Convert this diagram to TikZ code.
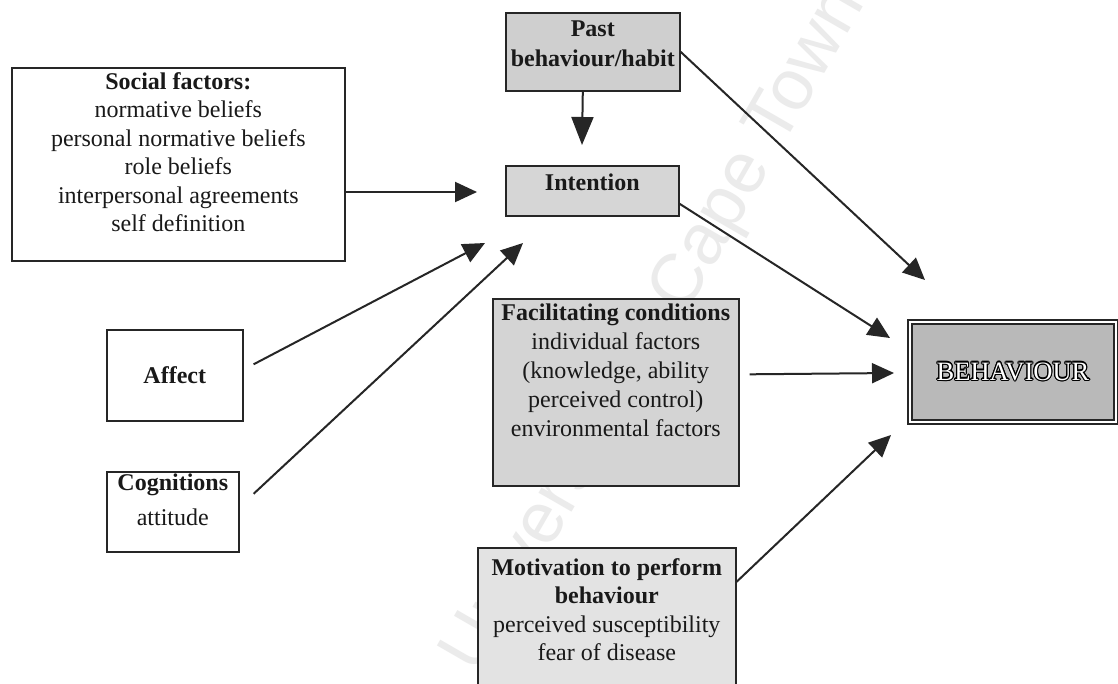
\documentclass[tikz,border=0pt]{standalone}
\usepackage{fontspec}
\setmainfont{Liberation Serif}
\newfontfamily\wmfont{Liberation Sans}
\usepackage{contour}
\contourlength{1.1pt}
\usetikzlibrary{arrows.meta,calc}
\tikzset{
  box/.style={draw=black!85, line width=1.6pt, inner sep=0pt, rectangle, anchor=north west},
  shadedbox/.style={box, fill=gray!30},
  txt/.style={font=\fontsize{24}{28.5}\selectfont, align=center, inner sep=0pt, text=black!90},
  arr/.style={line width=2pt, draw=black!85, -{Triangle[length=22pt,width=20pt]}},
}
\begin{document}
\begin{tikzpicture}[x=1pt,y=-1pt]
\useasboundingbox (0,0) rectangle (1118,683);
\fill[white] (0,0) rectangle (1118,683);
% watermark
\node[rotate=60, text=gray!16, font=\wmfont\fontsize{72}{72}\selectfont, inner sep=0pt] (wm) at (655,330) {University of Cape Town};
% boxes
\node[box, minimum width=333, minimum height=193] (social) at (11,67) {};
\node[shadedbox, fill=gray!38, minimum width=174, minimum height=78] (past) at (505,12) {};
\node[shadedbox, fill=gray!32, minimum width=173, minimum height=50] (int) at (505,165) {};
\node[shadedbox, fill=gray!34, minimum width=246, minimum height=187] (fac) at (492,298) {};
\node[shadedbox, fill=gray!22, minimum width=258, minimum height=142] (mot) at (477,547) {};
\node[box, minimum width=136, minimum height=91] (affect) at (106,329) {};
\node[box, minimum width=132, minimum height=80] (cog) at (106,471) {};
\node[box, fill=gray!55, line width=2pt, double=white, double distance=1.5pt, minimum width=206, minimum height=100] (beh) at (909,321) {};
% texts
\node[txt, anchor=north] (socialT) at (social.north |- 0,72) {\textbf{Social factors:}\\normative beliefs\\personal normative beliefs\\role beliefs\\interpersonal agreements\\self definition};
\node[txt, anchor=north, font=\fontsize{24}{30}\selectfont] (pastT) at (past.north |- 0,21) {\textbf{Past}\\\textbf{behaviour/habit}};
\node[txt, anchor=north] (intT) at (int.north |- 0,174) {\textbf{Intention}};
\node[txt, anchor=north, font=\fontsize{24}{29}\selectfont] (facT) at (fac.north |- 0,304) {\textbf{Facilitating conditions}\\individual factors\\(knowledge, ability\\perceived control)\\environmental factors};
\node[txt, anchor=north] (motT) at (mot.north |- 0,558) {\textbf{Motivation to perform}\\\textbf{behaviour}\\perceived susceptibility\\fear of disease};
\node[txt] (affT) at (affect.center) {\textbf{Affect}};
\node[txt, anchor=north, font=\fontsize{24}{35}\selectfont] (cogT) at (cog.north |- 0,474) {\textbf{Cognitions}\\attitude};
\node[txt, font=\fontsize{26.5}{28}\selectfont] (behT) at (beh.center) {\color{white}\contour{black}{BEHAVIOUR}};
% arrow tips
\coordinate (t1) at (477,192);
\coordinate (t2) at (485,243);
\coordinate (t3) at (523,243);
\coordinate (t4) at (582,145);
\coordinate (t5) at (925,280);
\coordinate (t6) at (890,338);
\coordinate (t7) at (894,373);
\coordinate (t8) at (891,435);
% connectors
\draw[arr] (social.east |- t1) -- (t1);
\draw[arr] ([xshift=10pt,yshift=11pt]affect.east) -- (t2);
\draw[arr] ([xshift=14pt,yshift=18pt]cog.east) -- (t3);
\draw[arr, -{Triangle[length=28pt,width=22pt]}] ([xshift=-10pt]past.south) -- (t4);
\draw[arr] (past.east) -- (t5);
\draw[arr] ([yshift=-13pt]int.east) -- (t6);
\draw[arr] ([xshift=10pt,yshift=18pt]fac.east) -- (t7);
\draw[arr] ([yshift=37pt]mot.east) -- (t8);
\end{tikzpicture}
\end{document}
